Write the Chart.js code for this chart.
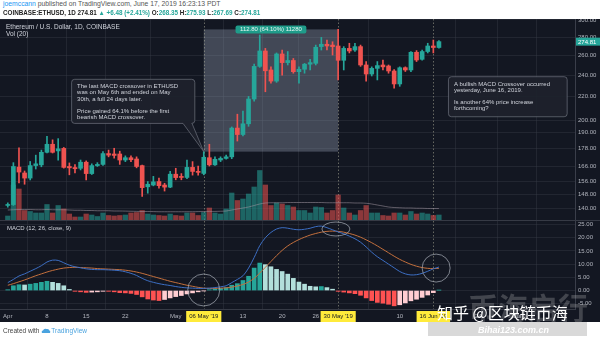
<!DOCTYPE html>
<html>
<head>
<meta charset="utf-8">
<script src="https://cdn.jsdelivr.net/npm/chart.js@4.4.0/dist/chart.umd.min.js"></script>
<style>
  html, body { margin: 0; padding: 0; background: #fff; }
  body { width: 600px; height: 339px; position: relative; overflow: hidden; font-family: "Liberation Sans", Arial, sans-serif; }
  #frame { position: absolute; left: 0; top: 19px; width: 600px; height: 303px; background: #131722; }
  canvas { position: absolute; left: 0; }
  #price { top: 19px; }
  #macd { top: 220px; }
  #sep { position: absolute; left: 0; top: 220px; width: 600px; height: 1px; background: #363a45; }
  .txt { position: absolute; white-space: nowrap; line-height: 1; }
  .legend { color: #d1d4dc; font-size: 6.5px; }
  .up { color: #26a69a; }
  #wm-box { position: absolute; left: 428px; top: 322px; width: 159px; height: 14px; background: #d9d9d9; }
  #wm-big { position: absolute; left: 468px; top: 284px; font: bold 30px "Noto Sans CJK SC", sans-serif; color: rgba(190,190,190,0.28); white-space: nowrap; }
  #wm-site { position: absolute; left: 478px; top: 325px; font: italic bold 9px "Liberation Sans", Arial, sans-serif; color: #fff; }
  #wm-name { position: absolute; left: 437px; top: 304px; font: 16px "Noto Sans CJK SC", sans-serif; color: #fff; white-space: nowrap; line-height: 1; }
</style>
</head>
<body>
<div id="frame"></div>
<canvas id="price" width="600" height="201"></canvas>
<div id="sep"></div>
<canvas id="macd" width="600" height="102"></canvas>

<div class="txt" id="head1" style="left:3px; top:1px; font-size:6.8px; color:#555;"></div>
<div class="txt" id="head2" style="left:3px; top:10px; font-size:6.3px; font-weight:bold; color:#222;"></div>
<div class="txt legend" style="left:6px; top:23.5px;">Ethereum / U.S. Dollar, 1D, COINBASE</div>
<div class="txt legend" style="left:6px; top:31px;">Vol (20)</div>
<div class="txt legend" style="left:7px; top:225px; font-size:6px;">MACD (12, 26, close, 9)</div>
<div class="txt" style="left:3px; top:328px; font-size:6.5px; color:#444;">Created with
  <svg width="10" height="6" viewBox="0 0 10 6" style="vertical-align:-1px"><path d="M1 5 Q0 3 2 2.5 Q3 0 5.5 1 Q8 0.5 8.5 2.5 Q10 3.5 9 5 Z" fill="#4aa3df"/></svg><span style="color:#4aa3df">TradingView</span></div>

<div id="wm-box"></div>
<div id="wm-big">币海启行</div>
<div id="wm-site">Bihai123.com.cn</div>
<div id="wm-name">知乎 @区块链币海</div>

<script>
const FONT = '"Liberation Sans", Arial, sans-serif';

// ETH/USD daily candles, Apr 1 – Jun 17 2019 (index 0 = Apr 1)
const open = [141.5, 142.0, 165.3, 161.4, 158.1, 166.3, 166.8, 175.5, 181.3, 176.5,
  178.3, 165.7, 165.0, 164.5, 168.6, 161.0, 166.3, 167.1, 174.6, 174.3,
  174.3, 170.1, 171.7, 170.8, 166.3, 152.6, 153.7, 155.9, 153.7, 152.4,
  160.6, 158.8, 158.5, 165.1, 162.4, 161.1, 171.7, 166.8, 170.1, 171.2,
  172.3, 193.6, 188.6, 197.0, 217.8, 248.6, 264.6, 245.0, 234.2, 261.4,
  252.4, 254.6, 243.3, 245.7, 250.8, 251.7, 269.3, 271.9, 271.0, 270.0,
  254.8, 267.4, 265.6, 269.3, 250.0, 241.0, 246.6, 250.0, 249.0, 244.0,
  231.5, 247.3, 245.0, 263.2, 255.8, 264.0, 270.0, 268.35];
const high = [143.0, 168.3, 178.7, 162.7, 169.1, 173.5, 177.1, 187.2, 184.6, 185.5,
  179.0, 168.1, 167.0, 170.1, 169.5, 167.5, 168.3, 176.0, 177.1, 178.4,
  176.3, 173.0, 173.0, 172.3, 166.7, 155.9, 159.2, 158.1, 154.8, 162.4,
  164.5, 161.0, 170.1, 169.0, 166.0, 175.98, 181.3, 172.3, 172.3, 173.5,
  194.5, 204.8, 207.4, 220.1, 250.9, 282.3, 267.4, 248.1, 262.5, 265.6,
  264.0, 256.7, 248.1, 251.6, 255.8, 271.0, 279.6, 276.6, 274.7, 288.78,
  269.3, 273.0, 273.0, 271.0, 253.5, 248.1, 253.5, 255.1, 250.0, 245.5,
  248.1, 248.1, 264.0, 265.0, 265.6, 273.0, 276.6, 275.93];
const low = [140.5, 141.5, 155.0, 154.2, 156.9, 164.0, 165.5, 175.0, 175.0, 170.0,
  164.6, 160.2, 161.4, 163.4, 156.9, 160.4, 165.7, 166.5, 172.3, 171.4,
  167.1, 169.0, 169.0, 164.8, 146.7, 148.7, 153.2, 151.7, 150.0, 152.0,
  157.0, 157.0, 157.7, 160.0, 160.0, 160.2, 166.0, 166.5, 169.0, 170.6,
  171.0, 183.7, 187.5, 195.0, 216.0, 247.6, 224.3, 232.2, 233.0, 240.0,
  250.0, 241.8, 232.2, 241.8, 245.0, 250.0, 265.6, 265.6, 260.3, 235.3,
  245.0, 262.5, 264.0, 248.6, 234.2, 239.1, 235.3, 245.0, 241.8, 227.5,
  229.3, 243.5, 243.3, 253.5, 255.0, 262.5, 262.5, 267.69];
const close = [142.0, 165.7, 162.0, 158.1, 166.3, 167.5, 175.5, 181.3, 175.5, 178.0,
  165.1, 164.8, 164.2, 168.6, 161.0, 166.3, 167.1, 174.6, 173.5, 173.3,
  170.1, 171.7, 170.3, 165.7, 152.1, 154.2, 155.7, 153.3, 152.4, 160.6,
  158.4, 158.5, 165.1, 162.4, 161.8, 172.0, 166.8, 170.6, 171.2, 172.3,
  193.6, 188.6, 197.0, 217.8, 248.6, 264.6, 244.2, 234.2, 261.4, 252.4,
  254.6, 243.3, 245.7, 250.8, 252.4, 268.6, 271.9, 270.0, 269.3, 254.8,
  267.4, 264.6, 269.3, 250.0, 241.0, 246.6, 249.4, 248.1, 244.0, 231.5,
  247.2, 245.0, 263.2, 255.1, 264.0, 270.0, 268.33, 274.81];

// volume in thousand ETH and its 20-day average
const volume = [80, 700, 620, 190, 170, 140, 140, 310, 140, 290,
  220, 120, 60, 60, 120, 100, 70, 140, 90, 80,
  90, 100, 140, 150, 190, 120, 100, 90, 80, 120,
  90, 80, 140, 140, 90, 150, 240, 140, 120, 220,
  540, 390, 420, 520, 660, 990, 700, 290, 340, 320,
  290, 260, 190, 190, 140, 260, 250, 140, 190, 500,
  240, 140, 100, 190, 290, 140, 140, 90, 80, 140,
  140, 100, 170, 120, 140, 120, 90, 100];
const volMA = [200, 205, 210, 210, 210, 205, 205, 210, 205, 205,
  205, 200, 195, 195, 190, 190, 185, 185, 185, 180,
  180, 178, 175, 172, 170, 170, 168, 165, 165, 165,
  165, 165, 165, 165, 168, 170, 172, 172, 175, 180,
  200, 220, 240, 260, 290, 320, 340, 345, 345, 345,
  350, 350, 350, 350, 350, 350, 350, 345, 345, 345,
  345, 345, 340, 340, 335, 320, 300, 280, 260, 250,
  245, 240, 240, 235, 235, 230, 230, 230];

// MACD (12, 26, close, 9)
const macd = [3.0, 4.2, 5.5, 6.3, 7.3, 8.3, 9.4, 10.8, 11.5, 11.4,
  10.5, 9.6, 9.0, 8.6, 8.2, 8.0, 7.9, 7.9, 7.8, 7.7,
  7.5, 7.1, 6.5, 5.7, 4.6, 3.7, 3.1, 2.6, 2.2, 1.9,
  1.5, 1.2, 1.0, 0.9, 0.8, 0.8, 0.9, 1.1, 1.4, 1.8,
  3.0, 4.2, 5.6, 8.5, 12.5, 17.0, 20.0, 22.0, 23.3, 23.8,
  23.6, 23.2, 23.0, 23.2, 23.6, 24.2, 24.4, 23.8, 23.0, 22.2,
  21.5, 20.6, 19.6, 18.3, 16.5, 14.5, 12.8, 11.4, 10.0, 8.6,
  7.2, 6.3, 5.9, 6.0, 6.5, 7.3, 8.2, 8.9];
const signal = [2.0, 2.6, 3.3, 4.0, 4.8, 5.6, 6.3, 7.0, 7.6, 8.1,
  8.5, 8.7, 8.8, 8.7, 8.6, 8.5, 8.3, 8.2, 8.1, 8.0,
  7.9, 7.7, 7.4, 7.0, 6.5, 5.9, 5.3, 4.7, 4.1, 3.5,
  3.0, 2.5, 2.0, 1.6, 1.2, 0.9, 0.8, 0.8, 0.9, 1.0,
  1.3, 1.7, 2.3, 3.2, 4.6, 6.6, 8.8, 11.0, 13.2, 15.2,
  16.9, 18.2, 19.3, 20.2, 21.0, 21.6, 22.1, 22.4, 22.5, 22.4,
  22.1, 21.6, 21.0, 20.2, 19.2, 18.1, 16.9, 15.6, 14.3, 13.0,
  11.8, 10.8, 9.9, 9.2, 8.7, 8.4, 8.3, 8.4];
const hist = [0.3, 1.8, 2.2, 2.1, 2.4, 2.7, 3.1, 3.5, 3.1, 2.7, 1.8, 0.4,
  -0.3, -0.5, -0.7, -0.6, -0.5, -0.3, -0.3, -0.5, -0.8, -0.9, -1.1, -1.5,
  -2.4, -3.2, -3.6, -3.8, -3.4, -2.8, -2.3, -1.9, -1.3, -0.9, -0.5,
  -0.1, 0.3, 0.5, 0.8, 1.1, 2.0, 2.6, 3.8, 5.4, 8.5, 10.4, 9.8, 9.0,
  8.0, 7.2, 6.2, 4.6, 3.2, 2.4, 1.6, 1.4, 1.5, 1.1, 0.5,
  -0.3, -0.6, -0.9, -1.2, -1.8, -2.8, -3.8, -4.5, -4.8, -5.2,
  -5.8, -5.4, -4.7, -3.9, -3.3, -2.6, -1.7, -0.8, 0.1];

const priceTicks = [140, 148, 156, 166, 178, 190, 200, 220, 240, 260, 280, 300];
const macdTicks = [-5, 0, 5, 10, 15, 20, 25];
const dateTickDays = [0, 7, 14, 21, 30, 35, 42, 49, 55, 59, 70, 76, 84, 91];
const dateTickLabels = ['Apr', '8', '15', '22', 'May', "06 May '19", '13', '20', '26', "30 May '19", '10', "16 Jun '19", '24', 'Jul'];
const markedDays = [35, 59, 76];

const lastPrice = close[close.length - 1];
const rangeFrom = { day: 35, price: 175.98 };
const rangeTo = { day: 59, price: 288.78 };

const UP = '#26a69a', DOWN = '#ef5350';
const GRID = 'rgba(54,58,69,0.45)';
const X_MIN = -1.39, X_MAX = 101.3;

const days = close.map((_, i) => i);
const rising = close.map((c, i) => c >= open[i]);
const candleColors = rising.map(u => (u ? UP : DOWN));
const volColors = rising.map(u => (u ? 'rgba(38,166,154,0.55)' : 'rgba(239,83,80,0.55)'));
const histColors = hist.map((v, i) => {
  const prev = i > 0 ? hist[i - 1] : v;
  if (v >= 0) return v >= prev ? '#26a69a' : '#b2dfdb';
  return v <= prev ? '#ff5252' : '#ffcdd2';
});

// header text is built from the last candle
const n = close.length - 1;
const chg = close[n] - close[n - 1];
const green = v => `<span class="up">${v}</span>`;
document.getElementById('head1').innerHTML =
  '<span style="color:#2196f3">joemccann</span> published on TradingView.com, June 17, 2019 16:23:13 PDT';
document.getElementById('head2').innerHTML =
  `COINBASE:ETHUSD, 1D ${close[n].toFixed(2)} ${green('▲ +' + chg.toFixed(2) + ' (+' + (chg / close[n - 1] * 100).toFixed(2) + '%)')} ` +
  `O:${green(open[n].toFixed(2))} H:${green(high[n].toFixed(2))} L:${green(low[n].toFixed(2))} C:${green(close[n].toFixed(2))}`;

const callouts = [
  {
    from: 11.4, to: 33.4, top: 235.9, bottom: 197.3,
    tail: { from: 31.3, to: 32.9, day: rangeFrom.day, price: rangeFrom.price },
    lines: ['The last MACD crossover in ETHUSD', 'was on May 6th and ended on May', '30th, a full 24 days later.', '',
      'Price gained 64.1% before the first', 'bearish MACD crossover.']
  },
  {
    from: 78.7, to: 99.9, top: 238.4, bottom: 202.7,
    lines: ['A bullish MACD Crossover occurred', 'yesterday, June 16, 2019.', '', 'Is another 64% price increase', 'forthcoming?']
  }
];

const rings = [
  { day: 35, value: 0.2, rx: 16, ry: 16 },
  { day: 58.6, value: 23.3, rx: 14, ry: 7 },
  { day: 76.5, value: 8.5, rx: 14, ry: 14 }
];

function markerLines(chart) {
  const { ctx, chartArea: a, scales: { x } } = chart;
  ctx.save();
  ctx.strokeStyle = 'rgba(170,170,150,0.55)';
  ctx.lineWidth = 1;
  ctx.setLineDash([1.5, 2]);
  markedDays.forEach(d => {
    const px = Math.round(x.getPixelForValue(d)) + 0.5;
    ctx.beginPath();
    ctx.moveTo(px, a.top);
    ctx.lineTo(px, a.bottom);
    ctx.stroke();
  });
  ctx.restore();
}

function roundRect(ctx, l, t, w, h, r) {
  ctx.beginPath();
  ctx.moveTo(l + r, t);
  ctx.arcTo(l + w, t, l + w, t + h, r);
  ctx.arcTo(l + w, t + h, l, t + h, r);
  ctx.arcTo(l, t + h, l, t, r);
  ctx.arcTo(l, t, l + w, t, r);
  ctx.closePath();
}

function drawCallout(ctx, x, y, c) {
  const l = x.getPixelForValue(c.from), r = x.getPixelForValue(c.to);
  const t = y.getPixelForValue(c.top), b = y.getPixelForValue(c.bottom);
  const rad = 3;
  ctx.beginPath();
  ctx.moveTo(l + rad, t);
  ctx.arcTo(r, t, r, b, rad);
  ctx.arcTo(r, b, l, b, rad);
  if (c.tail) {
    ctx.lineTo(x.getPixelForValue(c.tail.to), b);
    ctx.lineTo(x.getPixelForValue(c.tail.day), y.getPixelForValue(c.tail.price));
    ctx.lineTo(x.getPixelForValue(c.tail.from), b);
  }
  ctx.arcTo(l, b, l, t, rad);
  ctx.arcTo(l, t, r, t, rad);
  ctx.closePath();
  ctx.fillStyle = 'rgba(30,34,45,0.92)';
  ctx.fill();
  ctx.strokeStyle = 'rgba(110,114,126,0.7)';
  ctx.lineWidth = 1;
  ctx.stroke();
  ctx.fillStyle = '#d1d4dc';
  ctx.font = `6px ${FONT}`;
  ctx.textBaseline = 'middle';
  ctx.textAlign = 'left';
  c.lines.forEach((s, i) => ctx.fillText(s, l + 5.5, t + 7.2 + i * 6.2));
}

const priceDrawings = {
  id: 'priceDrawings',
  beforeDatasetsDraw(chart) {
    const { ctx, scales: { x, y } } = chart;
    const x0 = x.getPixelForValue(rangeFrom.day), x1 = x.getPixelForValue(rangeTo.day);
    const y0 = y.getPixelForValue(rangeTo.price), y1 = y.getPixelForValue(rangeFrom.price);
    ctx.save();
    ctx.fillStyle = 'rgba(150,160,180,0.36)';
    ctx.fillRect(x0, y0, x1 - x0, y1 - y0);
    ctx.restore();
    markerLines(chart);
  },
  afterDatasetsDraw(chart) {
    const { ctx, scales: { x, y } } = chart;
    ctx.save();
    callouts.forEach(c => drawCallout(ctx, x, y, c));

    // price range label above the box
    const diff = rangeTo.price - rangeFrom.price;
    const label = `${diff.toFixed(2)} (${(diff / rangeFrom.price * 100).toFixed(2)}%) ${Math.round(diff * 100)}`;
    ctx.font = `6px ${FONT}`;
    const w = ctx.measureText(label).width + 9;
    const cx = x.getPixelForValue((rangeFrom.day + rangeTo.day) / 2);
    const cy = y.getPixelForValue(rangeTo.price);
    roundRect(ctx, cx - w / 2, cy - 4, w, 8, 2);
    ctx.fillStyle = '#1f9c8a';
    ctx.fill();
    ctx.fillStyle = '#e8f5f3';
    ctx.textAlign = 'center';
    ctx.textBaseline = 'middle';
    ctx.fillText(label, cx, cy + 0.3);
    ctx.restore();
  },
  afterDraw(chart) {
    const { ctx, chartArea: a, scales: { y } } = chart;
    const py = y.getPixelForValue(lastPrice);
    ctx.save();
    ctx.fillStyle = UP;
    ctx.fillRect(a.right + 1, py - 4, 24, 8);
    ctx.fillStyle = '#fff';
    ctx.font = `6px ${FONT}`;
    ctx.textBaseline = 'middle';
    ctx.fillText(lastPrice.toFixed(2), a.right + 3, py + 0.3);
    ctx.restore();
  }
};

const macdDrawings = {
  id: 'macdDrawings',
  beforeDatasetsDraw: markerLines,
  afterDatasetsDraw(chart) {
    const { ctx, scales: { x, y } } = chart;
    ctx.save();
    ctx.strokeStyle = 'rgba(170,175,185,0.7)';
    ctx.lineWidth = 1;
    rings.forEach(r => {
      ctx.beginPath();
      ctx.ellipse(x.getPixelForValue(r.day), y.getPixelForValue(r.value), r.rx, r.ry, 0, 0, Math.PI * 2);
      ctx.stroke();
    });
    ctx.restore();
  }
};

const noPad = s => { s.paddingTop = 0; s.paddingBottom = 0; s.paddingLeft = 0; s.paddingRight = 0; };
const tickFont = { size: 6, family: FONT };
const common = {
  responsive: false,
  maintainAspectRatio: false,
  animation: false,
  events: [],
  plugins: { legend: { display: false }, tooltip: { enabled: false } }
};

new Chart(document.getElementById('price'), {
  type: 'bar',
  data: {
    datasets: [
      { data: days.map(i => ({ x: i, y: [open[i], close[i]] })), backgroundColor: candleColors,
        barThickness: 4, minBarLength: 1, grouped: false, yAxisID: 'y', order: 0 },
      { data: days.map(i => ({ x: i, y: [low[i], high[i]] })), backgroundColor: candleColors,
        barThickness: 1, grouped: false, yAxisID: 'y', order: 1 },
      { type: 'line', data: days.map(i => ({ x: i, y: volMA[i] })), yAxisID: 'vol',
        borderColor: 'rgba(160,150,160,0.55)', borderWidth: 1, pointRadius: 0, tension: 0.3, order: 2 },
      { data: days.map(i => ({ x: i, y: volume[i] })), backgroundColor: volColors,
        barThickness: 4.6, grouped: false, yAxisID: 'vol', order: 3 }
    ]
  },
  options: {
    ...common,
    layout: { padding: 0 },
    scales: {
      x: {
        type: 'linear', min: X_MIN, max: X_MAX, bounds: 'data', offset: false,
        grid: { color: ctx => (ctx.tick && (markedDays.includes(ctx.tick.value) || ctx.tick.value === 0) ? 'rgba(0,0,0,0)' : GRID), drawTicks: false },
        border: { display: false },
        ticks: { display: false },
        afterBuildTicks: s => { s.ticks = dateTickDays.map(v => ({ value: v })); },
        afterFit: s => { s.height = 0; noPad(s); }
      },
      y: {
        type: 'logarithmic', position: 'right', min: 133.4, max: 301.2, bounds: 'data',
        afterBuildTicks: s => { s.ticks = priceTicks.map(v => ({ value: v })); },
        ticks: { callback: v => Number(v).toFixed(2), color: '#b2b5be', font: tickFont, padding: 3, autoSkip: false },
        grid: { color: GRID, drawTicks: false },
        border: { display: true, color: '#3a3e4a' },
        afterFit: s => { s.width = 25; noPad(s); }
      },
      vol: { type: 'linear', display: false, min: 0, max: 4020 }
    }
  },
  plugins: [priceDrawings]
});

new Chart(document.getElementById('macd'), {
  type: 'bar',
  data: {
    datasets: [
      { type: 'line', data: days.map(i => ({ x: i, y: macd[i] })), borderColor: '#3d6fc4',
        borderWidth: 1, pointRadius: 0, tension: 0.3, order: 0 },
      { type: 'line', data: days.map(i => ({ x: i, y: signal[i] })), borderColor: '#c4703d',
        borderWidth: 1, pointRadius: 0, tension: 0.3, order: 1 },
      { data: days.map(i => ({ x: i, y: hist[i] })), backgroundColor: histColors,
        barThickness: 4, grouped: false, order: 2 }
    ]
  },
  options: {
    ...common,
    layout: { padding: { top: 1 } },
    scales: {
      x: {
        type: 'linear', min: X_MIN, max: X_MAX, bounds: 'data', offset: false,
        afterBuildTicks: s => { s.ticks = dateTickDays.map(v => ({ value: v })); },
        ticks: {
          autoSkip: false, maxRotation: 0, padding: 4, font: tickFont,
          callback: v => dateTickLabels[dateTickDays.indexOf(v)],
          color: ctx => (markedDays.includes(ctx.tick.value) ? '#131722' : '#b2b5be'),
          showLabelBackdrop: ctx => markedDays.includes(ctx.tick.value),
          backdropColor: '#ffeb3b',
          backdropPadding: { x: 3, y: 2 }
        },
        grid: { color: ctx => (ctx.tick && (markedDays.includes(ctx.tick.value) || ctx.tick.value === 0) ? 'rgba(0,0,0,0)' : GRID), drawTicks: false },
        border: { display: true, color: '#363a45' },
        afterFit: s => { s.height = 13; noPad(s); }
      },
      y: {
        type: 'linear', position: 'right', min: -7.0, max: 26.33, bounds: 'data',
        afterBuildTicks: s => { s.ticks = macdTicks.map(v => ({ value: v })); },
        ticks: { callback: v => Number(v).toFixed(2), color: '#b2b5be', font: tickFont, padding: 3, autoSkip: false },
        grid: { color: GRID, drawTicks: false },
        border: { display: true, color: '#3a3e4a' },
        afterFit: s => { s.width = 25; noPad(s); }
      }
    }
  },
  plugins: [macdDrawings]
});
</script>
</body>
</html>
